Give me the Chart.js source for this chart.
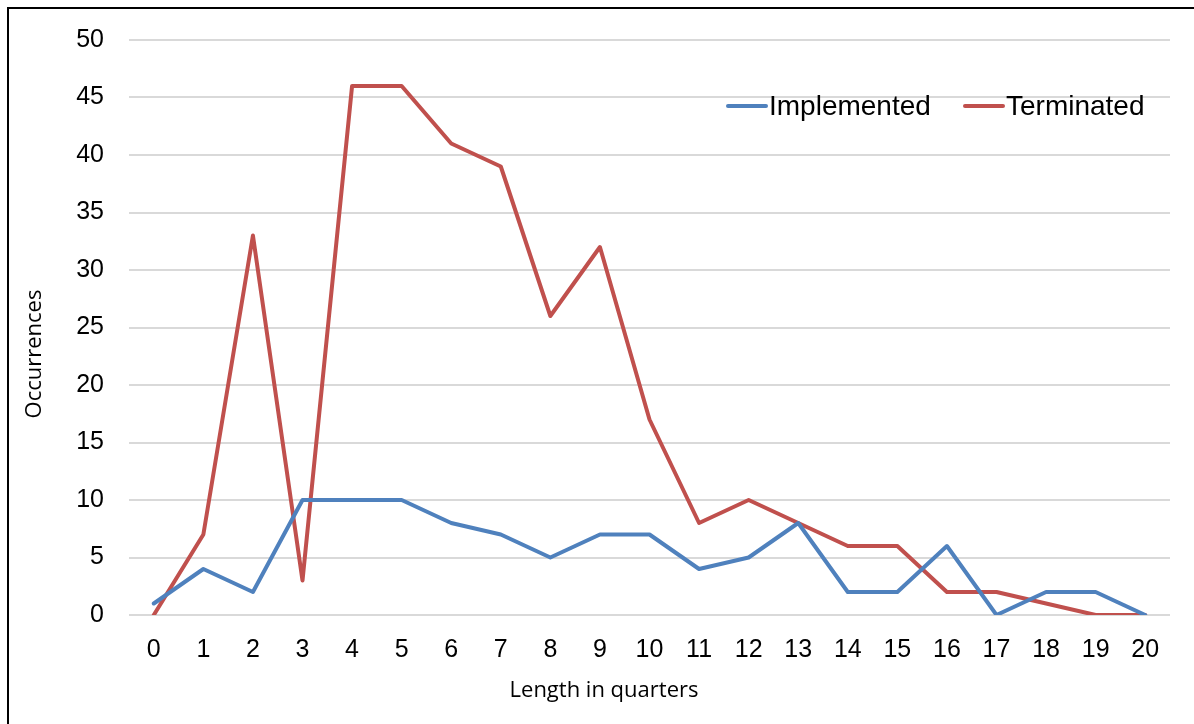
<!DOCTYPE html>
<html>
<head>
<meta charset="utf-8">
<script src="https://cdn.jsdelivr.net/npm/chart.js@4/dist/chart.umd.min.js"></script>
<style>
  html, body { margin: 0; padding: 0; background: #fff; }
  #wrap { position: relative; width: 1194px; height: 724px; overflow: hidden; }
  #frame { position: absolute; left: 7px; top: 7px; right: -10px; bottom: -10px;
           border-left: 2px solid #000; border-top: 2px solid #000; pointer-events: none; }
  canvas { position: absolute; left: 0; top: 0; }
</style>
</head>
<body>
<div id="wrap">
  <canvas id="c" width="1194" height="724"></canvas>
  <div id="frame"></div>
</div>
<script>
// Length of the spell (in quarters) and how often each length occurred
const quarters = ['0','1','2','3','4','5','6','7','8','9','10','11','12','13','14','15','16','17','18','19','20'];
const implemented = [1, 4, 2, 10, 10, 10, 8, 7, 5, 7, 7, 4, 5, 8, 2, 2, 6, 0, 2, 2, 0];
const terminated  = [0, 7, 33, 3, 46, 46, 41, 39, 26, 32, 17, 8, 10, 8, 6, 6, 2, 2, 1, 0, 0];
const yTicks = [0, 5, 10, 15, 20, 25, 30, 35, 40, 45, 50];
const xTitle = 'Length in quarters';
const yTitle = 'Occurrences';

const BLUE = '#4F81BD';
const RED = '#C0504D';
const TICK_FONT = { family: 'Liberation Sans, Arial, sans-serif', size: 25 };
const TITLE_CSS = '22px "Open Sans", Calibri, sans-serif';
const LEGEND_CSS = '28px "Liberation Sans", Arial, sans-serif';

// Axis titles and the legend, placed inside the frame
const annotations = {
  id: 'annotations',
  afterDraw(chart) {
    const ctx = chart.ctx;
    ctx.save();
    ctx.fillStyle = '#000';
    ctx.textBaseline = 'middle';

    // axis titles
    ctx.font = TITLE_CSS;
    ctx.textAlign = 'center';
    ctx.fillText(xTitle, 604, 691);
    ctx.save();
    ctx.translate(35, 354);
    ctx.rotate(-Math.PI / 2);
    ctx.fillText(yTitle, 0, 0);
    ctx.restore();

    // legend, top-right of the plot
    const y = 106;
    const items = [
      { x: 728, ds: chart.data.datasets[0] },
      { x: 965, ds: chart.data.datasets[1] }
    ];
    ctx.font = LEGEND_CSS;
    ctx.textAlign = 'left';
    items.forEach(it => {
      ctx.strokeStyle = it.ds.borderColor;
      ctx.lineWidth = 4;
      ctx.lineCap = 'round';
      ctx.beginPath();
      ctx.moveTo(it.x, y);
      ctx.lineTo(it.x + 38, y);
      ctx.stroke();
      ctx.fillText(it.ds.label, it.x + 41, y + 1);
    });
    ctx.restore();
  }
};

new Chart(document.getElementById('c'), {
  type: 'line',
  data: {
    labels: quarters,
    datasets: [
      { label: 'Implemented', data: implemented, borderColor: BLUE, backgroundColor: BLUE,
        borderWidth: 4, borderJoinStyle: 'round', borderCapStyle: 'round',
        pointRadius: 0, tension: 0, fill: false },
      { label: 'Terminated', data: terminated, borderColor: RED, backgroundColor: RED,
        borderWidth: 4, borderJoinStyle: 'round', borderCapStyle: 'round',
        pointRadius: 0, tension: 0, fill: false }
    ]
  },
  options: {
    responsive: false,
    animation: false,
    layout: { padding: { top: 40, right: 24, left: 0, bottom: 0 } },
    plugins: { legend: { display: false }, tooltip: { enabled: false } },
    scales: {
      x: {
        type: 'category',
        offset: true,
        grid: { display: false, drawTicks: false },
        border: { display: false },
        ticks: { color: '#000', font: TICK_FONT, padding: 20, maxRotation: 0, autoSkip: false },
        afterFit(s) { s.height = 724 - 615; }
      },
      y: {
        min: 0, max: 50,
        afterBuildTicks(s) { s.ticks = yTicks.map(v => ({ value: v })); },
        grid: { color: '#d9d9d9', lineWidth: 2, drawTicks: false },
        border: { display: false },
        ticks: { color: '#000', font: TICK_FONT, padding: 25 },
        afterFit(s) { s.width = 129; }
      }
    }
  },
  plugins: [annotations]
});
</script>
</body>
</html>
